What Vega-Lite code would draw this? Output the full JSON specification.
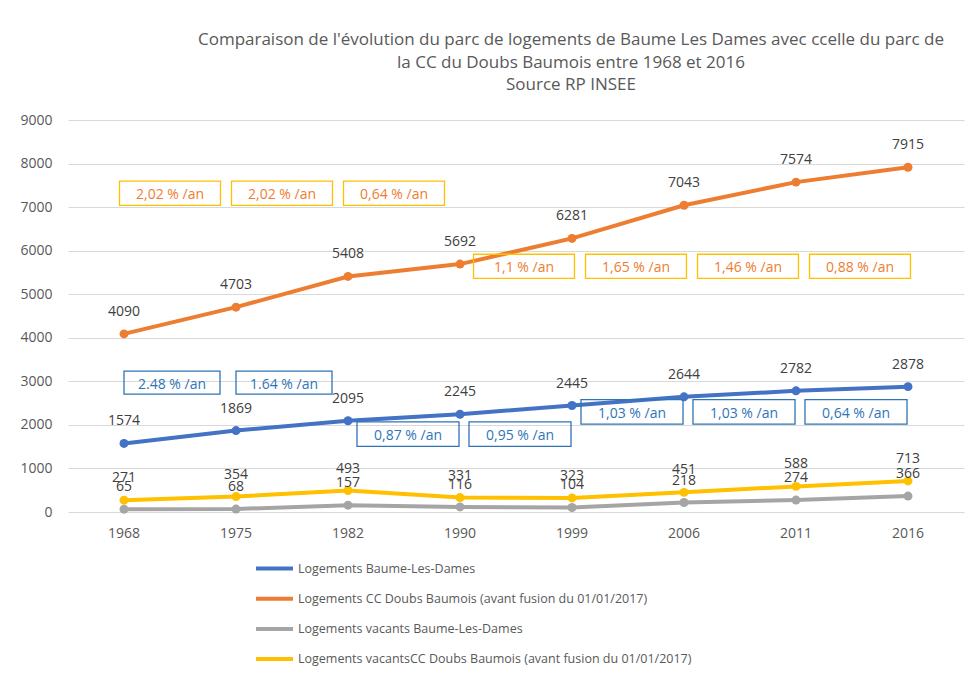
{
  "$schema": "https://vega.github.io/schema/vega-lite/v6.json",
  "width": 896,
  "height": 392,
  "autosize": {"type": "none"},
  "padding": {"left": 68, "top": 120, "right": 4, "bottom": 163},
  "background": "white",
  "title": {
    "text": ["Comparaison de l'évolution du parc  de logements de Baume Les Dames avec ccelle du parc de", "la CC du Doubs Baumois entre 1968 et 2016", "Source RP INSEE"],
    "font": "Open Sans",
    "fontSize": 17,
    "fontWeight": "normal",
    "color": "#595959",
    "anchor": "middle",
    "dx": 55,
    "lineHeight": 22.5,
    "offset": 19
  },
  "config": {"view": {"stroke": null}, "font": "Open Sans"},
  "datasets": {
    "series": [
      {"Année": "1968", "Série": "Logements Baume-Les-Dames", "Logements": 1574},
      {"Année": "1975", "Série": "Logements Baume-Les-Dames", "Logements": 1869},
      {"Année": "1982", "Série": "Logements Baume-Les-Dames", "Logements": 2095},
      {"Année": "1990", "Série": "Logements Baume-Les-Dames", "Logements": 2245},
      {"Année": "1999", "Série": "Logements Baume-Les-Dames", "Logements": 2445},
      {"Année": "2006", "Série": "Logements Baume-Les-Dames", "Logements": 2644},
      {"Année": "2011", "Série": "Logements Baume-Les-Dames", "Logements": 2782},
      {"Année": "2016", "Série": "Logements Baume-Les-Dames", "Logements": 2878},
      {"Année": "1968", "Série": "Logements CC Doubs Baumois (avant fusion du 01/01/2017)", "Logements": 4090},
      {"Année": "1975", "Série": "Logements CC Doubs Baumois (avant fusion du 01/01/2017)", "Logements": 4703},
      {"Année": "1982", "Série": "Logements CC Doubs Baumois (avant fusion du 01/01/2017)", "Logements": 5408},
      {"Année": "1990", "Série": "Logements CC Doubs Baumois (avant fusion du 01/01/2017)", "Logements": 5692},
      {"Année": "1999", "Série": "Logements CC Doubs Baumois (avant fusion du 01/01/2017)", "Logements": 6281},
      {"Année": "2006", "Série": "Logements CC Doubs Baumois (avant fusion du 01/01/2017)", "Logements": 7043},
      {"Année": "2011", "Série": "Logements CC Doubs Baumois (avant fusion du 01/01/2017)", "Logements": 7574},
      {"Année": "2016", "Série": "Logements CC Doubs Baumois (avant fusion du 01/01/2017)", "Logements": 7915},
      {"Année": "1968", "Série": "Logements vacants Baume-Les-Dames", "Logements": 65},
      {"Année": "1975", "Série": "Logements vacants Baume-Les-Dames", "Logements": 68},
      {"Année": "1982", "Série": "Logements vacants Baume-Les-Dames", "Logements": 157},
      {"Année": "1990", "Série": "Logements vacants Baume-Les-Dames", "Logements": 116},
      {"Année": "1999", "Série": "Logements vacants Baume-Les-Dames", "Logements": 104},
      {"Année": "2006", "Série": "Logements vacants Baume-Les-Dames", "Logements": 218},
      {"Année": "2011", "Série": "Logements vacants Baume-Les-Dames", "Logements": 274},
      {"Année": "2016", "Série": "Logements vacants Baume-Les-Dames", "Logements": 366},
      {"Année": "1968", "Série": "Logements vacantsCC Doubs Baumois (avant fusion du 01/01/2017)", "Logements": 271},
      {"Année": "1975", "Série": "Logements vacantsCC Doubs Baumois (avant fusion du 01/01/2017)", "Logements": 354},
      {"Année": "1982", "Série": "Logements vacantsCC Doubs Baumois (avant fusion du 01/01/2017)", "Logements": 493},
      {"Année": "1990", "Série": "Logements vacantsCC Doubs Baumois (avant fusion du 01/01/2017)", "Logements": 331},
      {"Année": "1999", "Série": "Logements vacantsCC Doubs Baumois (avant fusion du 01/01/2017)", "Logements": 323},
      {"Année": "2006", "Série": "Logements vacantsCC Doubs Baumois (avant fusion du 01/01/2017)", "Logements": 451},
      {"Année": "2011", "Série": "Logements vacantsCC Doubs Baumois (avant fusion du 01/01/2017)", "Logements": 588},
      {"Année": "2016", "Série": "Logements vacantsCC Doubs Baumois (avant fusion du 01/01/2017)", "Logements": 713}
    ],
    "annot": [
      {"Début": "1968", "Taux": "2,02 % /an", "Valeur": 7320, "Groupe": "oL"},
      {"Début": "1975", "Taux": "2,02 % /an", "Valeur": 7320, "Groupe": "oL"},
      {"Début": "1982", "Taux": "0,64 % /an", "Valeur": 7320, "Groupe": "oL"},
      {"Début": "1990", "Taux": "1,1 % /an", "Valeur": 5640, "Groupe": "oR"},
      {"Début": "1999", "Taux": "1,65 % /an", "Valeur": 5640, "Groupe": "oR"},
      {"Début": "2006", "Taux": "1,46 % /an", "Valeur": 5640, "Groupe": "oR"},
      {"Début": "2011", "Taux": "0,88 % /an", "Valeur": 5640, "Groupe": "oR"},
      {"Début": "1968", "Taux": "2.48 % /an", "Valeur": 2970, "Groupe": "bL"},
      {"Début": "1975", "Taux": "1.64 % /an", "Valeur": 2970, "Groupe": "bL"},
      {"Début": "1982", "Taux": "0,87 % /an", "Valeur": 1790, "Groupe": "bR"},
      {"Début": "1990", "Taux": "0,95 % /an", "Valeur": 1790, "Groupe": "bR"},
      {"Début": "1999", "Taux": "1,03 % /an", "Valeur": 2300, "Groupe": "bR"},
      {"Début": "2006", "Taux": "1,03 % /an", "Valeur": 2300, "Groupe": "bR"},
      {"Début": "2011", "Taux": "0,64 % /an", "Valeur": 2300, "Groupe": "bR"}
    ]
  },
  "layer": [
    {
      "data": {"name": "series"},
      "mark": {"type": "line", "strokeWidth": 4, "point": {"size": 80, "filled": true, "opacity": 1}},
      "encoding": {
        "x": {
          "field": "Année", "type": "nominal",
          "scale": {"type": "band", "paddingInner": 0, "paddingOuter": 0},
          "axis": {"title": null, "labelAngle": 0, "domain": false, "ticks": false, "grid": false, "labelPadding": 14, "labelFontSize": 14, "labelColor": "#595959", "labelFont": "Open Sans"}
        },
        "y": {
          "field": "Logements", "type": "quantitative",
          "scale": {"domain": [0, 9000], "nice": false},
          "axis": {"title": null, "format": "d", "values": [0, 1000, 2000, 3000, 4000, 5000, 6000, 7000, 8000, 9000], "domain": false, "ticks": false, "gridColor": "#D9D9D9", "gridWidth": 1, "labelPadding": 16, "labelFontSize": 14, "labelColor": "#595959", "labelFont": "Open Sans"}
        },
        "color": {
          "field": "Série", "type": "nominal",
          "scale": {
            "domain": ["Logements Baume-Les-Dames", "Logements CC Doubs Baumois (avant fusion du 01/01/2017)", "Logements vacants Baume-Les-Dames", "Logements vacantsCC Doubs Baumois (avant fusion du 01/01/2017)"],
            "range": ["#4472C4", "#ED7D31", "#A5A5A5", "#FFC000"]
          },
          "legend": {"orient": "none", "legendX": 186, "legendY": 428, "title": null, "direction": "vertical", "symbolType": "stroke", "symbolStrokeWidth": 4, "symbolSize": 1369, "labelFontSize": 12.5, "labelColor": "#595959", "labelFont": "Open Sans", "labelLimit": 0, "rowPadding": 1.2, "labelOffset": 3}
        }
      }
    },
    {
      "data": {"name": "series"},
      "mark": {"type": "text", "baseline": "middle", "dy": -22, "fontSize": 14, "color": "#404040", "font": "Open Sans"},
      "encoding": {
        "x": {"field": "Année", "type": "nominal"},
        "y": {"field": "Logements", "type": "quantitative", "scale": {"domain": [0, 9000], "nice": false}},
        "text": {"field": "Logements", "type": "quantitative", "format": "d"}
      }
    },
    {
      "data": {"name": "annot"},
      "transform": [{"filter": "datum.Groupe === 'oL'"}],
      "mark": {"type": "point", "shape": "M-1,-0.24H1V0.24H-1Z", "size": 10201, "filled": false, "strokeWidth": 1.3, "color": "#FFC000", "opacity": 1, "xOffset": 46},
      "encoding": {"x": {"field": "Début", "type": "nominal"}, "y": {"field": "Valeur", "type": "quantitative", "scale": {"domain": [0, 9000], "nice": false}}}
    },
    {
      "data": {"name": "annot"},
      "transform": [{"filter": "datum.Groupe === 'oL'"}],
      "mark": {"type": "text", "baseline": "middle", "dy": 2, "fontSize": 14, "color": "#ED7D31", "font": "Open Sans", "xOffset": 46},
      "encoding": {"x": {"field": "Début", "type": "nominal"}, "y": {"field": "Valeur", "type": "quantitative", "scale": {"domain": [0, 9000], "nice": false}}, "text": {"field": "Taux"}}
    },
    {
      "data": {"name": "annot"},
      "transform": [{"filter": "datum.Groupe === 'oR'"}],
      "mark": {"type": "point", "shape": "M-1,-0.24H1V0.24H-1Z", "size": 10201, "filled": false, "strokeWidth": 1.3, "color": "#FFC000", "opacity": 1, "xOffset": 64},
      "encoding": {"x": {"field": "Début", "type": "nominal"}, "y": {"field": "Valeur", "type": "quantitative", "scale": {"domain": [0, 9000], "nice": false}}}
    },
    {
      "data": {"name": "annot"},
      "transform": [{"filter": "datum.Groupe === 'oR'"}],
      "mark": {"type": "text", "baseline": "middle", "dy": 2, "fontSize": 14, "color": "#ED7D31", "font": "Open Sans", "xOffset": 64},
      "encoding": {"x": {"field": "Début", "type": "nominal"}, "y": {"field": "Valeur", "type": "quantitative", "scale": {"domain": [0, 9000], "nice": false}}, "text": {"field": "Taux"}}
    },
    {
      "data": {"name": "annot"},
      "transform": [{"filter": "datum.Groupe === 'bL'"}],
      "mark": {"type": "point", "shape": "M-1,-0.24H1V0.24H-1Z", "size": 9216, "filled": false, "strokeWidth": 1.3, "color": "#2E75B6", "opacity": 1, "xOffset": 48},
      "encoding": {"x": {"field": "Début", "type": "nominal"}, "y": {"field": "Valeur", "type": "quantitative", "scale": {"domain": [0, 9000], "nice": false}}}
    },
    {
      "data": {"name": "annot"},
      "transform": [{"filter": "datum.Groupe === 'bL'"}],
      "mark": {"type": "text", "baseline": "middle", "dy": 2, "fontSize": 14, "color": "#2E75B6", "font": "Open Sans", "xOffset": 48},
      "encoding": {"x": {"field": "Début", "type": "nominal"}, "y": {"field": "Valeur", "type": "quantitative", "scale": {"domain": [0, 9000], "nice": false}}, "text": {"field": "Taux"}}
    },
    {
      "data": {"name": "annot"},
      "transform": [{"filter": "datum.Groupe === 'bR'"}],
      "mark": {"type": "point", "shape": "M-1,-0.24H1V0.24H-1Z", "size": 10404, "filled": false, "strokeWidth": 1.3, "color": "#2E75B6", "opacity": 1, "xOffset": 60},
      "encoding": {"x": {"field": "Début", "type": "nominal"}, "y": {"field": "Valeur", "type": "quantitative", "scale": {"domain": [0, 9000], "nice": false}}}
    },
    {
      "data": {"name": "annot"},
      "transform": [{"filter": "datum.Groupe === 'bR'"}],
      "mark": {"type": "text", "baseline": "middle", "dy": 2, "fontSize": 14, "color": "#2E75B6", "font": "Open Sans", "xOffset": 60},
      "encoding": {"x": {"field": "Début", "type": "nominal"}, "y": {"field": "Valeur", "type": "quantitative", "scale": {"domain": [0, 9000], "nice": false}}, "text": {"field": "Taux"}}
    }
  ]
}
